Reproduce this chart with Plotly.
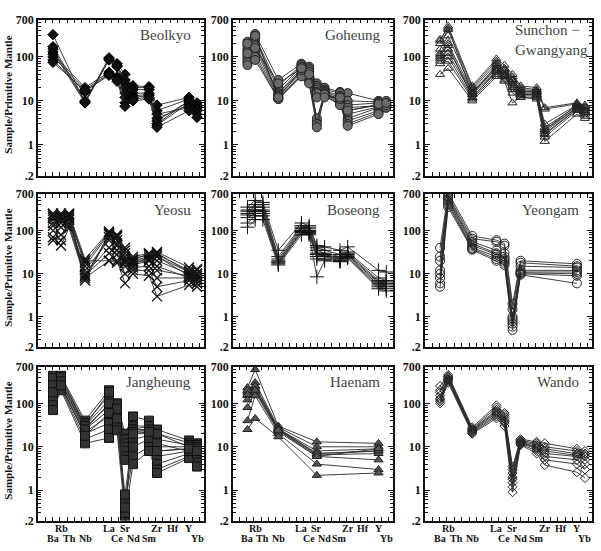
import plotly.graph_objects as go

# ---------------- data ----------------
# element slots along the x axis (blank = unlabeled slot)
SLOTS = ["Ba", "Rb", "Th", "", "Nb", "", "", "La", "Ce", "Sr", "Nd", "", "Sm", "Zr", "", "Hf", "", "Y", "Yb"]
UPPER_LABELS = ["Rb", "La", "Sr", "Zr", "Hf", "Y"]
LOWER_LABELS = ["Ba", "Th", "Nb", "Ce", "Nd", "Sm", "Yb"]

Y_TICKS = [0.2, 1, 10, 100, 700]
Y_TICKTEXT = [".2", "1", "10", "100", "700"]

BEOLKYO_EL = ["Ba", "Nb", "La", "Ce", "Sr", "Nd", "Sm", "Zr", "Y", "Yb"]
BEOLKYO = [
    [320, 9, 95, 70, 40, 22, 21, 8, 12, 9],
    [170, 10, 90, 65, 30, 20, 20, 6, 11, 8],
    [150, 9.5, 88, 62, 25, 18, 18, 3.5, 10, 7.5],
    [130, 9, 85, 60, 20, 15, 15, 3, 10, 7],
    [115, 20, 45, 35, 15, 13, 14, 2.8, 9, 6.5],
    [100, 18, 42, 32, 12, 12, 13, 4, 8, 6],
    [85, 16, 40, 30, 9, 11, 12, 5, 7, 5],
    [75, 17, 38, 28, 7.5, 10, 11, 2.5, 6, 4.2],
]

GOHEUNG_EL = ["Ba", "Rb", "Nb", "La", "Ce", "Sr", "Nd", "Sm", "Zr", "Y", "Yb"]
GOHEUNG = [
    [220, 330, 30, 70, 60, 25, 20, 16, 15, 10, 10],
    [180, 280, 22, 65, 55, 22, 18, 15, 10, 9.5, 9],
    [150, 250, 18, 60, 50, 20, 17, 13, 8, 9, 8.5],
    [130, 200, 15, 55, 45, 3.5, 16, 12, 6, 8, 8],
    [110, 180, 14, 50, 40, 18, 15, 11, 5, 7.5, 8],
    [95, 150, 13, 45, 35, 16, 14, 10, 4, 7, 7.5],
    [85, 120, 12, 40, 30, 4, 14, 9, 3.5, 6, 7.5],
    [75, 100, 11, 38, 27, 3, 13, 8.5, 3, 5.5, 7],
    [65, 85, 11, 36, 25, 2.5, 13, 8, 2.7, 5, 7],
    [200, 300, 12, 50, 45, 15, 14, 11, 7, 8, 8],
    [120, 160, 25, 55, 40, 12, 12, 12, 6, 8.5, 9],
]

SUNCHON_EL = ["Ba", "Rb", "Nb", "La", "Ce", "Sr", "Nd", "Sm", "Zr", "Y", "Yb"]
SUNCHON = [
    [230, 500, 22, 90, 65, 40, 22, 20, 7, 9, 8],
    [200, 420, 20, 80, 55, 35, 20, 18, 6.5, 8.5, 7.5],
    [150, 300, 18, 70, 50, 30, 18, 17, 3, 8, 7],
    [120, 200, 16, 60, 45, 28, 16, 16, 2.5, 7.5, 6.5],
    [100, 150, 15, 55, 40, 25, 15, 15, 2.2, 7, 6],
    [90, 120, 14, 50, 38, 22, 14, 14, 2, 7, 5.5],
    [80, 100, 12, 45, 35, 20, 13, 13, 1.8, 6.5, 5],
    [70, 80, 11, 40, 30, 15, 12, 12, 1.5, 6, 4.5],
    [40, 55, 10, 36, 28, 9, 12, 11, 1.2, 5, 4],
    [250, 450, 14, 65, 50, 30, 17, 16, 2.2, 8, 6],
    [110, 180, 12, 48, 36, 18, 14, 14, 1.7, 6.5, 5.5],
]

YEOSU_EL = ["Ba", "Rb", "Th", "Nb", "La", "Ce", "Sr", "Nd", "Sm", "Zr", "Y", "Yb"]
YEOSU = [
    [250, 250, 250, 22, 95, 80, 40, 25, 30, 32, 14, 13],
    [220, 230, 230, 18, 90, 75, 30, 22, 28, 28, 12, 12],
    [200, 200, 220, 8, 85, 70, 25, 20, 25, 25, 11, 10],
    [180, 180, 200, 7, 80, 60, 20, 18, 22, 20, 10, 9],
    [150, 150, 180, 12, 60, 45, 18, 16, 20, 12, 9, 8],
    [130, 120, 150, 10, 40, 35, 15, 14, 15, 8, 8, 7],
    [100, 80, 130, 9, 30, 28, 10, 12, 12, 5, 7, 6],
    [60, 45, 115, 8, 20, 20, 6, 10, 9, 3, 5.5, 5],
    [240, 210, 240, 15, 85, 75, 35, 22, 28, 30, 11, 10],
    [70, 60, 180, 20, 20, 18, 18, 20, 22, 25, 9, 8],
    [200, 170, 200, 9, 70, 50, 22, 18, 20, 15, 8, 6],
]

BOSEONG_EL = ["Ba", "Rb", "Th", "Nb", "La", "Ce", "Sr", "Nd", "Sm", "Zr", "Y", "Yb"]
BOSEONG = [
    [350, 500, 450, 35, 150, 130, 45, 42, 35, 42, 12, 11],
    [300, 400, 400, 25, 130, 120, 40, 35, 28, 32, 8, 7],
    [280, 350, 350, 22, 120, 110, 35, 30, 25, 30, 7, 6.5],
    [250, 300, 300, 20, 110, 100, 30, 28, 23, 28, 6.5, 6],
    [230, 280, 280, 19, 100, 95, 28, 26, 22, 27, 6, 5.5],
    [200, 250, 250, 18, 95, 90, 25, 25, 20, 25, 5.5, 5],
    [150, 220, 220, 17, 90, 85, 22, 22, 20, 24, 5, 4.5],
    [120, 180, 180, 16, 80, 80, 8.5, 20, 19, 23, 4.5, 4],
]

YEONGAM_EL = ["Ba", "Rb", "Nb", "La", "Ce", "Sr", "Nd", "Y"]
YEONGAM = [
    [40, 750, 75, 60, 50, 2, 20, 17],
    [25, 650, 65, 55, 45, 1.5, 18, 15],
    [20, 600, 55, 35, 30, 1, 15, 14],
    [12, 550, 50, 30, 25, 0.9, 12, 12],
    [10, 500, 45, 28, 22, 0.8, 11, 11],
    [8, 450, 40, 25, 20, 0.7, 10.5, 10],
    [6, 400, 38, 22, 18, 0.6, 10, 9],
    [5, 350, 36, 20, 16, 0.5, 9.5, 6],
]

JANGHEUNG_EL = ["Ba", "Rb", "Nb", "La", "Ce", "Sr", "Nd", "Sm", "Zr", "Y", "Yb"]
JANGHEUNG = [
    [430, 430, 40, 200, 100, 20, 50, 40, 25, 14, 12],
    [350, 380, 35, 150, 90, 15, 30, 30, 20, 12, 11],
    [300, 350, 30, 120, 80, 12, 25, 25, 15, 11, 10],
    [250, 300, 28, 90, 70, 10, 22, 22, 10, 10, 9],
    [200, 280, 25, 70, 60, 8, 20, 20, 8, 9, 8],
    [150, 250, 22, 50, 50, 6, 15, 18, 6, 8, 7],
    [120, 230, 20, 35, 40, 5, 10, 15, 4, 7, 6],
    [90, 220, 15, 25, 30, 0.5, 6, 10, 3, 6, 5],
    [70, 200, 12, 16, 24, 0.25, 4, 8, 2.5, 5.5, 3.5],
    [380, 400, 30, 180, 95, 0.3, 25, 30, 20, 10, 9],
    [260, 320, 25, 100, 75, 0.4, 22, 25, 12, 8, 7],
    [180, 260, 18, 60, 45, 0.8, 20, 22, 8, 9, 8],
]

HAENAM_EL = ["Ba", "Rb", "Nb", "Sr", "Y"]
HAENAM = [
    [230, 600, 30, 13, 12],
    [200, 300, 28, 10, 10],
    [180, 250, 26, 8, 9],
    [150, 220, 25, 7, 8],
    [120, 200, 24, 6.5, 7],
    [80, 180, 22, 6, 5],
    [40, 150, 20, 4, 3],
    [25, 45, 17, 2.2, 2.5],
    [200, 250, 26, 7, 8],
    [160, 200, 24, 6, 9],
]

WANDO_EL = ["Ba", "Rb", "Nb", "La", "Ce", "Sr", "Nd", "Sm", "Zr", "Y", "Yb"]
WANDO = [
    [250, 450, 28, 90, 60, 3.5, 15, 13, 12, 9, 8],
    [200, 420, 26, 80, 55, 3, 14, 12, 10, 8, 7],
    [180, 400, 25, 70, 50, 2.5, 13.5, 11, 9, 7, 6.5],
    [150, 380, 24, 65, 45, 2, 13, 10, 8, 6.5, 6],
    [130, 360, 23, 60, 40, 1.8, 12.5, 9.5, 7, 6, 5],
    [120, 350, 22, 55, 38, 1.5, 12, 9, 6, 5, 4],
    [110, 330, 21, 50, 35, 1.2, 11.5, 8, 5, 4, 3],
    [100, 300, 20, 45, 30, 0.9, 11, 7, 3.8, 2.6, 1.9],
]

PANELS = [
    (["Beolkyo"], BEOLKYO_EL, BEOLKYO, dict(symbol="diamond", color="#111", line=dict(color="#000", width=1), size=8)),
    (["Goheung"], GOHEUNG_EL, GOHEUNG, dict(symbol="circle", color="#6a6a6a", line=dict(color="#222", width=1), size=9)),
    (["Sunchon \u2212", "Gwangyang"], SUNCHON_EL, SUNCHON, dict(symbol="triangle-up-open", color="#222", line=dict(color="#222", width=1), size=8)),
    (["Yeosu"], YEOSU_EL, YEOSU, dict(symbol="x-thin-open", color="#111", line=dict(color="#111", width=1.3), size=10)),
    (["Boseong"], BOSEONG_EL, BOSEONG, dict(symbol="cross-thin-open", color="#111", line=dict(color="#111", width=1), size=10)),
    (["Yeongam"], YEONGAM_EL, YEONGAM, dict(symbol="circle-open", color="#222", line=dict(color="#222", width=1), size=9)),
    (["Jangheung"], JANGHEUNG_EL, JANGHEUNG, dict(symbol="square", color="#333", line=dict(color="#111", width=1), size=9)),
    (["Haenam"], HAENAM_EL, HAENAM, dict(symbol="triangle-up", color="#555", line=dict(color="#222", width=1), size=8)),
    (["Wando"], WANDO_EL, WANDO, dict(symbol="diamond-open", color="#222", line=dict(color="#222", width=1), size=7)),
]

# ---------------- layout geometry (pixels) ----------------
W, H = 601, 551
COLS = [(38, 204), (233, 393), (425, 592)]
ROWS = [(13, 173), (192, 349), (369, 527)]
X_RANGE = [-1.875, 18.875]

SERIF = "Liberation Serif"

fig = go.Figure()
layout = dict(
    width=W, height=H, margin=dict(l=0, r=0, t=0, b=0),
    paper_bgcolor="white", plot_bgcolor="white", showlegend=False,
)
annotations = []

minor_vals = []
for dec in [0.1, 1, 10, 100]:
    for m in range(2, 10):
        v = m * dec
        if 0.2 < v < 700 and v not in Y_TICKS:
            minor_vals.append(v)

for k, (name_lines, els, samples, mk) in enumerate(PANELS):
    r, c = divmod(k, 3)
    idx = k + 1
    xa = "xaxis" if idx == 1 else f"xaxis{idx}"
    ya = "yaxis" if idx == 1 else f"yaxis{idx}"
    xref = "x" if idx == 1 else f"x{idx}"
    yref = "y" if idx == 1 else f"y{idx}"
    x0, x1 = COLS[c]
    y0, y1 = ROWS[r]
    xs = [SLOTS.index(e) for e in els]
    for s in samples:
        fig.add_trace(go.Scatter(
            x=xs, y=s, mode="lines+markers", xaxis=xref, yaxis=yref,
            line=dict(color="#2a2a2a", width=0.9),
            marker=mk, hoverinfo="skip",
        ))
    layout[xa] = dict(
        domain=[x0 / W, x1 / W], anchor=yref, range=X_RANGE,
        showgrid=False, zeroline=False, showline=True, linecolor="#111", linewidth=1.5,
        mirror="ticks", ticks="inside", ticklen=4, tickcolor="#111",
        tick0=-1, dtick=0.92, showticklabels=False,
    )
    layout[ya] = dict(
        domain=[1 - y1 / H, 1 - y0 / H], anchor=xref, type="log",
        range=[-0.69897, 2.845098], showgrid=False, zeroline=False,
        showline=True, linecolor="#111", linewidth=1.5, mirror="ticks",
        ticks="inside", ticklen=5, tickcolor="#111",
        tickvals=Y_TICKS, ticktext=Y_TICKTEXT,
        tickfont=dict(family=SERIF, size=12, color="#111", weight="bold"),
        minor=dict(tickvals=minor_vals, ticks="inside", ticklen=3, tickcolor="#111"),
    )
    # panel title
    if len(name_lines) == 2:
        annotations.append(dict(
            text="<br>".join(name_lines), xref="paper", yref="paper",
            x=(x0 + 89) / W, y=1 - (y0 + 21) / H,
            xanchor="left", yanchor="middle", align="left", showarrow=False, borderpad=0,
            font=dict(family=SERIF, size=15, color="#444"),
        ))
    else:
        annotations.append(dict(
            text=name_lines[0], xref="paper", yref="paper", x=(x1 - 11) / W, y=1 - (y0 + 16) / H,
            xanchor="right", yanchor="middle", showarrow=False,
            font=dict(family=SERIF, size=15, color="#444"),
        ))
    if c == 0:
        annotations.append(dict(
            text="Sample/Primitive Mantle", xref="paper", yref="paper",
            x=8 / W, y=1 - ((y0 + y1) / 2 - 3) / H, textangle=-90,
            xanchor="center", yanchor="middle", showarrow=False,
            font=dict(family=SERIF, size=11, color="#111", weight="bold"),
        ))
    if r == 2:
        for lab in UPPER_LABELS:
            annotations.append(dict(
                text=lab, xref=xref, yref="paper", x=SLOTS.index(lab), y=1 - 535 / H,
                xanchor="center", yanchor="middle", showarrow=False, borderpad=0,
                font=dict(family=SERIF, size=10, color="#111", weight="bold"),
            ))
        for lab in LOWER_LABELS:
            annotations.append(dict(
                text=lab, xref=xref, yref="paper", x=SLOTS.index(lab), y=1 - 545.5 / H,
                xanchor="center", yanchor="middle", showarrow=False, borderpad=0,
                font=dict(family=SERIF, size=10, color="#111", weight="bold"),
            ))

layout["annotations"] = annotations
fig.update_layout(**layout)
fig.write_html("out.html")
